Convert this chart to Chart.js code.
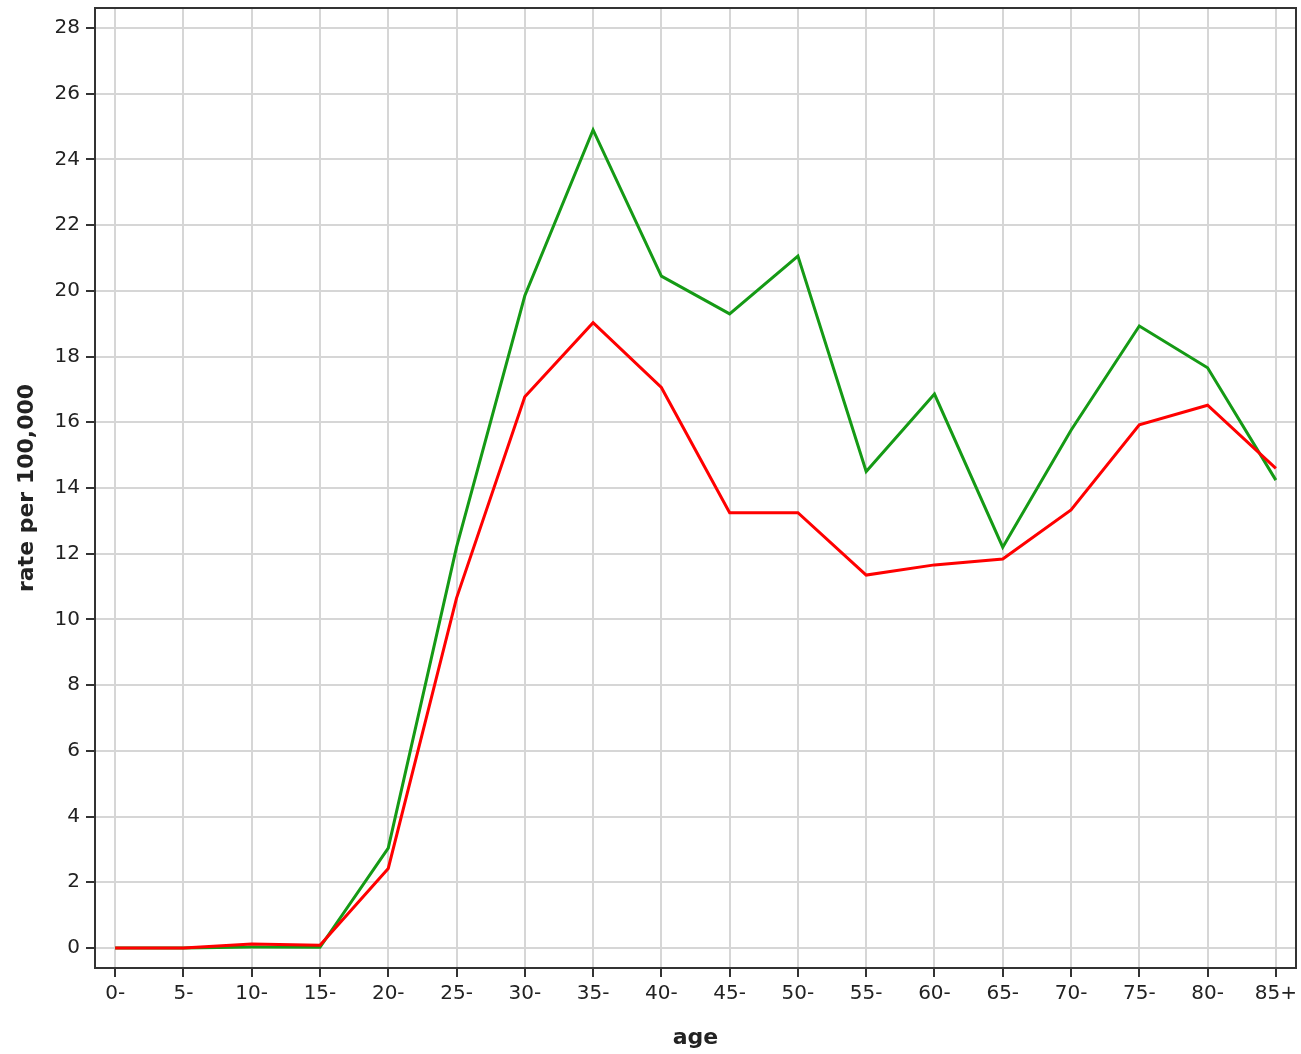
<!DOCTYPE html>
<html>
<head>
<meta charset="utf-8">
<script src="https://cdn.jsdelivr.net/npm/chart.js@4/dist/chart.umd.min.js"></script>
<style>
  html, body { margin: 0; padding: 0; background: #fff; }
  canvas { display: block; }
</style>
</head>
<body>
<canvas id="rateChart" width="1301" height="1054"></canvas>
<script>
// age groups along the bottom
const ageGroups = ['0-', '5-', '10-', '15-', '20-', '25-', '30-', '35-', '40-', '45-', '50-', '55-', '60-', '65-', '70-', '75-', '80-', '85+'];
// rates
const redRates   = [0, 0, 0.12, 0.08, 2.42, 10.65, 16.78, 19.03, 17.06, 13.25, 13.25, 11.35, 11.66, 11.84, 13.33, 15.92, 16.52, 14.6];
const greenRates = [0, 0, 0.03, 0.02, 3.04, 12.2, 19.85, 24.9, 20.45, 19.3, 21.06, 14.5, 16.86, 12.2, 15.76, 18.93, 17.66, 14.24];
// y axis tick values
const yTicks = [0, 2, 4, 6, 8, 10, 12, 14, 16, 18, 20, 22, 24, 26, 28];

const toPoints = arr => arr.map((v, i) => ({ x: i, y: v }));

// box around the plot area
const frame = {
    id: 'frame',
    afterDraw(chart) {
        const { ctx, chartArea: a } = chart;
        ctx.save();
        ctx.strokeStyle = '#333';
        ctx.lineWidth = 2;
        ctx.strokeRect(a.left, a.top, a.right - a.left, a.bottom - a.top);
        ctx.restore();
    }
};

const tickFont = { family: 'DejaVu Sans', size: 20 };
const titleFont = { family: 'DejaVu Sans', size: 22, weight: 'bold' };

new Chart(document.getElementById('rateChart'), {
    type: 'line',
    data: {
        datasets: [
            { data: toPoints(redRates), borderColor: '#ff0000', borderWidth: 3, pointRadius: 0, tension: 0 },
            { data: toPoints(greenRates), borderColor: '#159a15', borderWidth: 3, pointRadius: 0, tension: 0 }
        ]
    },
    options: {
        responsive: false,
        animation: false,
        devicePixelRatio: 1,
        layout: { padding: { left: 0, top: 8, right: 5, bottom: 0 } },
        plugins: { legend: { display: false }, tooltip: { enabled: false } },
        scales: {
            x: {
                type: 'linear',
                min: -0.295,
                max: ageGroups.length - 1 + 0.295,
                afterBuildTicks: s => { s.ticks = ageGroups.map((_, i) => ({ value: i })); },
                afterFit: s => { s.height = 86; s.paddingLeft = 0; s.paddingRight = 0; },
                ticks: {
                    font: tickFont, color: '#222', padding: 5, maxRotation: 0, autoSkip: false,
                    callback: v => ageGroups[Math.round(v)]
                },
                grid: { color: '#d6d6d6', lineWidth: 2, tickLength: 9, tickColor: '#333', tickWidth: 2 },
                border: { color: '#333', width: 2 },
                title: { display: true, text: 'age', font: titleFont, color: '#222', padding: { top: 0, bottom: 3 } }
            },
            y: {
                min: -0.609,
                max: 28.609,
                afterBuildTicks: s => { s.ticks = yTicks.map(v => ({ value: v })); },
                afterFit: s => { s.width = 95; s.paddingTop = 0; s.paddingBottom = 0; },
                ticks: { font: tickFont, color: '#222', padding: 6, callback: v => String(v) },
                grid: { color: '#d6d6d6', lineWidth: 2, tickLength: 9, tickColor: '#333', tickWidth: 2 },
                border: { color: '#333', width: 2 },
                title: { display: true, text: 'rate per 100,000', font: titleFont, color: '#222', padding: { top: 14, bottom: 0 } }
            }
        }
    },
    plugins: [frame]
});
</script>
</body>
</html>
